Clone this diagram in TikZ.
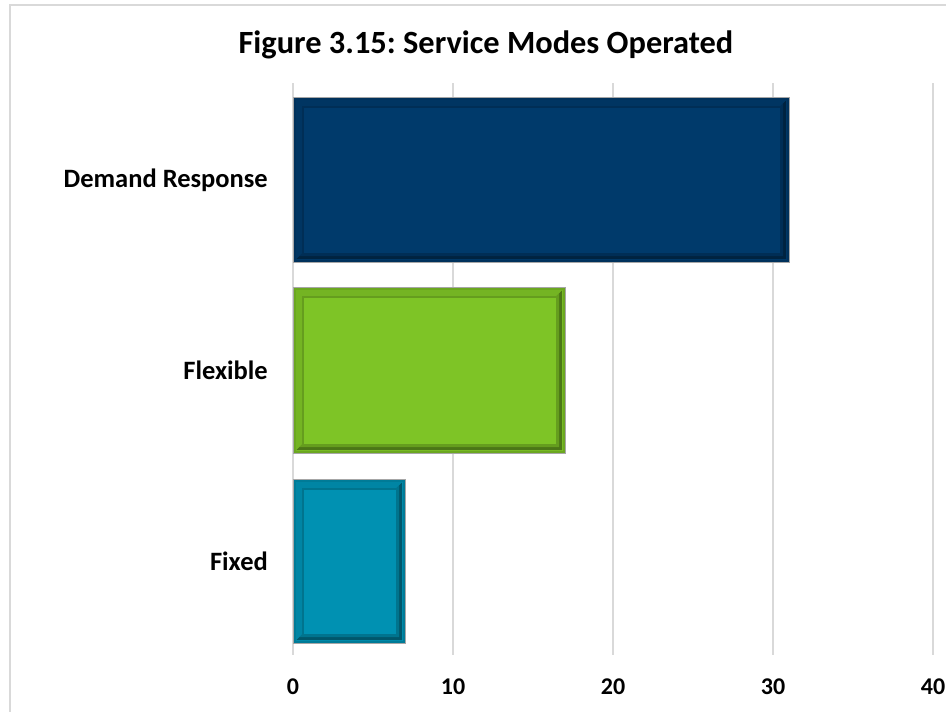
\documentclass[tikz,border=0pt]{standalone}
\usepackage{fontspec}
\setmainfont{Carlito}
\frenchspacing
\begin{document}
\begin{tikzpicture}[x=1pt,y=-1pt,
  grid/.style={draw=black!15,line width=1.6pt},
  cat/.style={font=\fontsize{26.5}{30}\selectfont\bfseries,anchor=east,inner sep=0pt},
  tick/.style={font=\fontsize{24}{28}\selectfont\bfseries,anchor=center,inner sep=0pt},
]
\definecolor{cblue}{RGB}{0,58,107}
\definecolor{cgreen}{RGB}{126,196,38}
\definecolor{cteal}{RGB}{0,145,178}
\useasboundingbox (0,0) rectangle (946,712);
\fill[white] (0,0) rectangle (946,712);
\draw[black!15,line width=2pt] (10,5) rectangle (960,730);
% title
\node[font=\fontsize{32.4}{36}\selectfont\bfseries,inner sep=0pt] (title) at (486,45) {Figure 3.15: Service Modes Operated};
% gridlines
\foreach \v/\n in {0/g0,10/g1,20/g2,30/g3,40/g4}{
  \coordinate (\n t) at ({293+16*\v},83);
  \coordinate (\n b) at ({293+16*\v},655);
  \draw[grid] (\n t) -- (\n b);
  \node[tick] (\n l) at ({293+16*\v},687) {\v};
}
% bars
\newcommand{\bevbar}[4]{% color, x2, y1, y2
  \fill[#1!85!black] (293,#3) rectangle (#2,#4);
  \draw[black!35,line width=0.8pt] (293,#3) rectangle (#2,#4);
  \fill[#1] (295.5,{#3+2.5}) rectangle ({#2-2.5},{#4-2.5});
  % bottom-right shadow bevel
  \fill[#1!60!black] ({#2-3},{#3+3}) -- ({#2-3},{#4-3}) -- (296,{#4-3}) -- (302,{#4-9}) -- ({#2-9},{#4-9}) -- ({#2-9},{#3+9}) -- cycle;
  \fill[#1!80!black] ({#2-6},{#3+6}) -- ({#2-6},{#4-6}) -- (299,{#4-6}) -- (302,{#4-9}) -- ({#2-9},{#4-9}) -- ({#2-9},{#3+9}) -- cycle;
  % top-left bevel
  \fill[#1!92!black] (296,{#3+3}) -- ({#2-3},{#3+3}) -- ({#2-9},{#3+9}) -- (302,{#3+9}) -- (302,{#4-9}) -- (296,{#4-3}) -- cycle;
  \fill[#1] (302,{#3+9}) rectangle ({#2-9},{#4-9});
  \fill[#1!80!black] (302,{#3+9}) rectangle ({#2-9},{#3+10.5});
  \fill[#1!80!black] (302,{#3+9}) rectangle (303.5,{#4-9});
}
\bevbar{cblue}{789}{97}{262}
\bevbar{cgreen}{565}{287}{453}
\bevbar{cteal}{405}{479}{643}
% category labels
\node[cat] (dr) at (268,180) {Demand Response};
\node[cat] (fl) at (268,370) {Flexible};
\node[cat] (fx) at (268,561) {Fixed};
\end{tikzpicture}
\end{document}
